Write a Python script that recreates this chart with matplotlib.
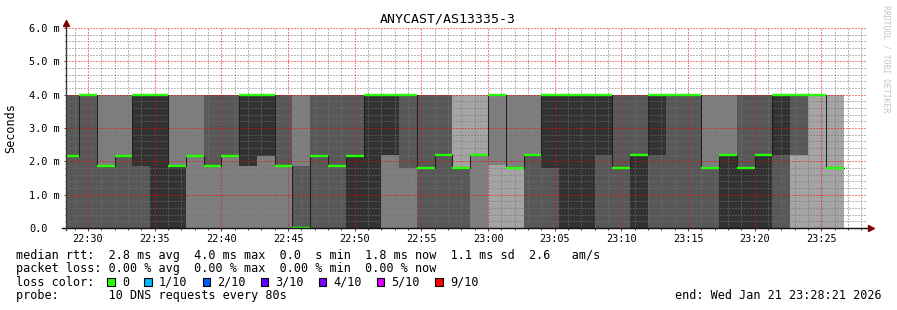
import matplotlib
matplotlib.use('Agg')
import matplotlib.pyplot as plt
from matplotlib.patches import Rectangle
from matplotlib.ticker import MultipleLocator, FuncFormatter
import numpy as np

# ==== DATOS ====

TITULO = 'ANYCAST/AS13335-3'
ETIQUETA_Y = 'Seconds'
MARCA_AGUA = 'RRDTOOL / TOBI OETIKER'

# eje de tiempo en minutos desde las 22:00
INICIO_VENTANA = 28 + 21 / 60      # 22:28:21
FIN_VENTANA = INICIO_VENTANA + 60  # 23:28:21
INICIO_DATOS = 28.0                # primer paso RRD (22:28:00)
PASO = 80 / 60                     # una medicion cada 80 s

# 10 respuestas DNS por paso (ms), una fila por paso
PINGS = [
    [0, 0, 0, 0, 2.15, 2.15, 4, 4, 4, 4],
    [0, 0, 0, 0, 4, 4, 4, 4, 4, 4],
    [0, 0, 0, 0, 1.85, 1.85, 1.85, 4, 4, 4],
    [0, 0, 0, 0, 2.15, 2.15, 2.15, 4, 4, 4],
    [0, 0, 0, 0, 1.85, 4, 4, 4, 4, 4],
    [0, 0, 0, 0, 0, 4, 4, 4, 4, 4],
    [0, 0, 0, 0, 0, 1.85, 1.85, 4, 4, 4],
    [0, 0, 0, 2.15, 2.15, 2.15, 2.15, 4, 4, 4],
    [0, 0, 0, 1.85, 1.85, 1.85, 4, 4, 4, 4],
    [0, 0, 0, 2.15, 2.15, 2.15, 4, 4, 4, 4],
    [0, 0, 0, 1.85, 1.85, 4, 4, 4, 4, 4],
    [0, 0, 0, 2.15, 2.15, 4, 4, 4, 4, 4],
    [0, 0, 0, 1.85, 1.85, 1.85, 4, 4, 4, 4],
    [0, 0, 0, 0, 0, 0, 1.85, 4, 4, 4],
    [0, 0, 0, 0, 2.15, 2.15, 4, 4, 4, 4],
    [0, 0, 0, 0, 1.85, 1.85, 4, 4, 4, 4],
    [0, 0, 0, 0, 0, 2.15, 4, 4, 4, 4],
    [0, 0, 0, 0, 0, 4, 4, 4, 4, 4],
    [0, 0, 0, 2.2, 2.2, 4, 4, 4, 4, 4],
    [0, 0, 0, 1.8, 4, 4, 4, 4, 4, 4],
    [0, 0, 0, 0, 1.8, 1.8, 4, 4, 4, 4],
    [0, 0, 0, 0, 2.2, 2.2, 4, 4, 4, 4],
    [0, 0, 0, 0, 1.8, 1.8, 1.8, 1.8, 4, 4],
    [0, 0, 0, 2.2, 2.2, 2.2, 2.2, 2.2, 4, 4],
    [0, 0, 1.9, 4, 4, 4, 4, 4, 4, 4],
    [0, 0, 1.8, 1.8, 1.8, 1.8, 1.8, 4, 4, 4],
    [0, 0, 0, 0, 2.2, 2.2, 2.2, 4, 4, 4],
    [0, 0, 0, 0, 1.8, 4, 4, 4, 4, 4],
    [0, 0, 0, 0, 0, 4, 4, 4, 4, 4],
    [0, 0, 0, 0, 0, 4, 4, 4, 4, 4],
    [0, 0, 0, 0, 2.2, 4, 4, 4, 4, 4],
    [0, 0, 0, 0, 1.8, 1.8, 4, 4, 4, 4],
    [0, 0, 0, 0, 0, 2.2, 4, 4, 4, 4],
    [0, 0, 0, 0, 2.2, 4, 4, 4, 4, 4],
    [0, 0, 0, 0, 4, 4, 4, 4, 4, 4],
    [0, 0, 0, 0, 4, 4, 4, 4, 4, 4],
    [0, 0, 0, 0, 1.8, 1.8, 1.8, 4, 4, 4],
    [0, 0, 0, 0, 0, 2.2, 2.2, 4, 4, 4],
    [0, 0, 0, 0, 0, 1.8, 4, 4, 4, 4],
    [0, 0, 0, 0, 0, 2.2, 4, 4, 4, 4],
    [0, 0, 0, 0, 2.2, 4, 4, 4, 4, 4],
    [0, 0, 2.2, 2.2, 4, 4, 4, 4, 4, 4],
    [0, 0, 4, 4, 4, 4, 4, 4, 4, 4],
    [0, 0, 1.8, 1.8, 1.8, 1.8, 1.8, 1.8, 4, 4],
]

Y_TICKS = [0, 1, 2, 3, 4, 5, 6]
Y_TICK_LABELS = ['0.0', '1.0 m', '2.0 m', '3.0 m', '4.0 m', '5.0 m', '6.0 m']

LINEA_RTT = 'median rtt:  2.8 ms avg  4.0 ms max  0.0  s min  1.8 ms now  1.1 ms sd  2.6   am/s'
LINEA_LOSS = 'packet loss: 0.00 % avg  0.00 % max  0.00 % min  0.00 % now'
LINEA_COLOR = 'loss color:'
LINEA_PROBE = 'probe:       10 DNS requests every 80s'
LINEA_FIN = 'end: Wed Jan 21 23:28:21 2026'

LOSS_LABELS = ['0', '1/10', '2/10', '3/10', '4/10', '5/10', '9/10']
LOSS_COLORS = ['#26ff00', '#00b8ff', '#0059ff', '#5e00ff', '#7e00ff', '#dd00ff', '#ff0000']

# ==== ESTILO ====
W, H = 897, 310
MONO = 'DejaVu Sans Mono'
FS_LEYENDA = 8.43
FS_EJE = 7.35
FS_TITULO = 9.5
COLOR_EJE = '#3a3a3a'
COLOR_FLECHA = '#7f0000'
CHAR_W = 7.046  # ancho de caracter de la leyenda en px

plt.rcParams['font.family'] = MONO

fig = plt.figure(figsize=(W / 100, H / 100), dpi=100)
fig.patch.set_facecolor('white')
ax = fig.add_axes([66 / W, (H - 228) / H, 800 / W, 200 / H])
ax.set_facecolor('white')

# ==== HUMO (smokeping) ====
pings = np.sort(np.array(PINGS, dtype=float), axis=1)
n = pings.shape[1]
mediana = pings[:, n // 2]
bordes = INICIO_DATOS + PASO * np.arange(len(pings) + 1)
half = n / 2
for ibot in range(1, n // 2 + 1):
    itop = n + 1 - ibot
    gris = int(190 / half * (half - ibot)) + 50
    color = '#%02x%02x%02x' % (gris, gris, gris)
    lo = np.append(pings[:, ibot - 1], pings[-1, ibot - 1])
    hi = np.append(pings[:, itop - 1], pings[-1, itop - 1])
    ax.fill_between(bordes, lo, hi, step='post', color=color, linewidth=0, zorder=1)

# mediana: linea oscura + segmentos de color de perdida
med_ext = np.append(mediana, mediana[-1])
ax.step(bordes, med_ext, where='post', color='#202020', lw=0.75, zorder=3)
ax.hlines(mediana, bordes[:-1], bordes[1:], colors=LOSS_COLORS[0], lw=1.7, zorder=4)

# ==== EJES Y GRILLA ====
ax.set_xlim(INICIO_VENTANA, FIN_VENTANA)
ax.set_ylim(0, 6)
ax.xaxis.set_major_locator(MultipleLocator(5))
ax.xaxis.set_minor_locator(MultipleLocator(1))
ax.xaxis.set_major_formatter(FuncFormatter(lambda v, p: '%02d:%02d' % (22 + int(round(v)) // 60, int(round(v)) % 60)))
ax.set_yticks(Y_TICKS)
ax.set_yticklabels(Y_TICK_LABELS)
ax.yaxis.set_minor_locator(MultipleLocator(0.2))

ax.set_axisbelow(False)
ax.grid(which='major', color=(1, 0, 0, 0.28), linestyle=(0, (1, 2)), linewidth=0.72)
ax.grid(which='minor', color=(0.45, 0.45, 0.45, 0.18), linestyle=(0, (1, 2)), linewidth=0.72)

for s in ax.spines.values():
    s.set_visible(False)

ax.tick_params(axis='both', which='both', direction='out', color=COLOR_EJE, width=0.7)
ax.tick_params(axis='x', which='major', length=2, pad=2, labelsize=FS_EJE)
ax.tick_params(axis='x', which='minor', length=1.5)
ax.tick_params(axis='y', which='major', length=1.5, pad=24.9, labelsize=FS_EJE)
ax.tick_params(axis='y', which='minor', length=1)
for t in ax.get_yticklabels():
    t.set_horizontalalignment('left')

# lineas de eje con flechas
ax.plot([-0.005, 1.003], [0, 0], transform=ax.transAxes, color='#111111', lw=1, clip_on=False, zorder=6)
ax.plot([0, 0], [-0.01, 1.02], transform=ax.transAxes, color=COLOR_EJE, lw=1, clip_on=False, zorder=6)
ax.plot([1.006], [0], marker='>', ms=4.5, color=COLOR_FLECHA, transform=ax.transAxes, clip_on=False, zorder=7)
ax.plot([0], [1.025], marker='^', ms=4.5, color=COLOR_FLECHA, transform=ax.transAxes, clip_on=False, zorder=7)

# ==== TEXTOS ====
fig.text(448 / W, 1 - 19 / H, TITULO, ha='center', va='center', fontsize=FS_TITULO)
fig.text(11 / W, 1 - 128 / H, ETIQUETA_Y, rotation=90, ha='center', va='center', fontsize=FS_LEYENDA)
fig.text(886 / W, 1 - 59 / H, MARCA_AGUA, rotation=270, ha='center', va='center',
         fontsize=5.9, color='#c4c4c4')

x0 = 15.7
filas = [255, 268.5, 282, 295.5]
fig.text(x0 / W, 1 - filas[0] / H, LINEA_RTT, ha='left', va='center', fontsize=FS_LEYENDA)
fig.text(x0 / W, 1 - filas[1] / H, LINEA_LOSS, ha='left', va='center', fontsize=FS_LEYENDA)
fig.text(x0 / W, 1 - filas[2] / H, LINEA_COLOR, ha='left', va='center', fontsize=FS_LEYENDA)
fig.text(x0 / W, 1 - filas[3] / H, LINEA_PROBE, ha='left', va='center', fontsize=FS_LEYENDA)
fig.text(882 / W, 1 - filas[3] / H, LINEA_FIN, ha='right', va='center', fontsize=FS_LEYENDA)

# cuadros de color de perdida
caja = 7.3
xc = x0 + 13 * CHAR_W
for etiqueta, color in zip(LOSS_LABELS, LOSS_COLORS):
    fig.add_artist(Rectangle((xc / W, 1 - (filas[2] + caja / 2) / H), caja / W, caja / H,
                             transform=fig.transFigure, facecolor=color, edgecolor='black', lw=0.8))
    xt = xc + 14.5
    fig.text(xt / W, 1 - filas[2] / H, etiqueta, ha='left', va='center', fontsize=FS_LEYENDA)
    xc = xt + len(etiqueta) * CHAR_W + 15.5

fig.savefig('out.png', dpi=100)
